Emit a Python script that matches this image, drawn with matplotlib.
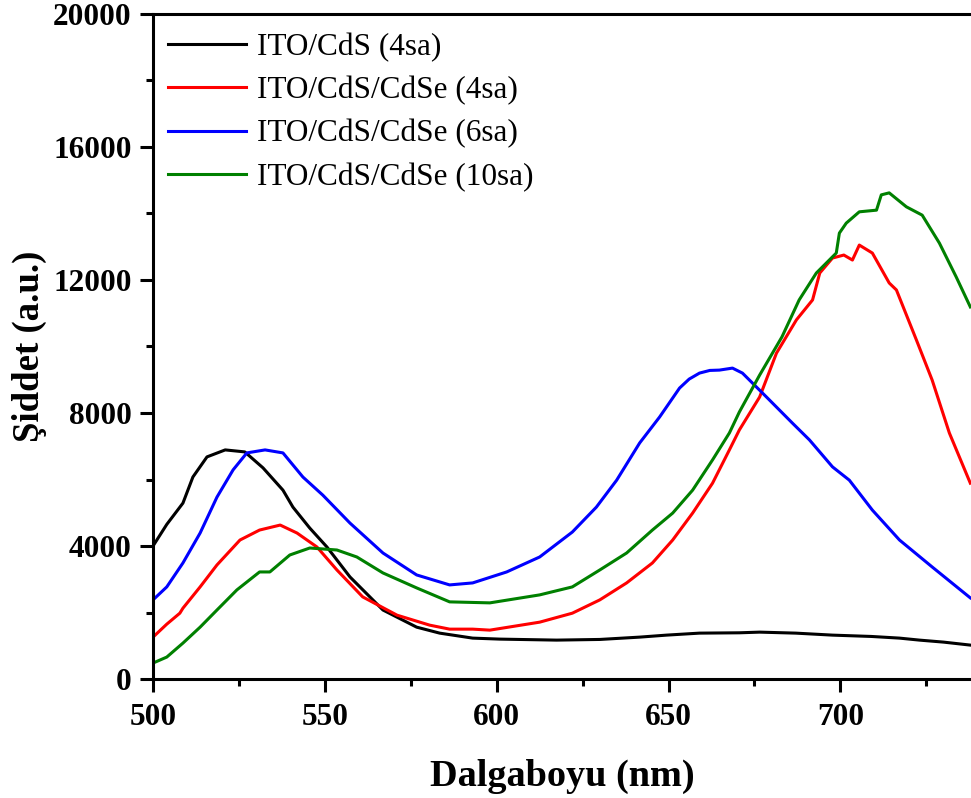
import matplotlib
matplotlib.use("Agg")
import matplotlib.pyplot as plt
from matplotlib.ticker import MultipleLocator

plt.rcParams['font.family'] = ['Liberation Serif', 'DejaVu Serif']

# ITO/CdS (4sa)
x_cds = [500, 504, 508.7, 511.6, 515.7, 521, 526.7, 532, 537.8, 540.7, 545.6, 550.6,
         557.3, 566.9, 576.7, 583.4, 593, 600.9, 617.4, 630, 641.6, 649.4, 659, 670.6,
         676.5, 687, 697.7, 709, 717.2, 723, 730, 737.8]
y_cds = [4000, 4650, 5290, 6075, 6680, 6890, 6830, 6350, 5680, 5170, 4540, 3970,
         3070, 2075, 1560, 1380, 1230, 1200, 1170, 1190, 1260, 1320, 1380, 1390,
         1410, 1380, 1320, 1280, 1230, 1170, 1110, 1020]

# ITO/CdS/CdSe (4sa)
x_4sa = [500, 504, 507.8, 508.7, 513.7, 518.6, 525.3, 531, 537, 541.9, 547.7, 553.5,
         561, 571, 580.5, 586.3, 593, 598, 612.5, 622, 630, 637.8, 645.3, 651.2, 657,
         662.8, 667.7, 670.6, 676.5, 681.4, 687.2, 691.9, 694, 697.7, 701, 703.5,
         705.5, 709.3, 714.2, 716.3, 722.1, 726.7, 731.7, 737.8]
y_4sa = [1260, 1650, 1980, 2130, 2770, 3430, 4180, 4480, 4630, 4390, 3970, 3280,
         2470, 1920, 1620, 1500, 1500, 1470, 1710, 1980, 2380, 2890, 3490, 4180, 4990,
         5890, 6890, 7490, 8480, 9800, 10800, 11400, 12210, 12660, 12750, 12600,
         13050, 12810, 11910, 11700, 10200, 8990, 7400, 5890]

# ITO/CdS/CdSe (6sa)
x_6sa = [500, 504, 508.7, 513.7, 518.6, 523.3, 527.3, 532.6, 537.8, 543.6, 549.4,
         557.3, 566.9, 576.7, 586.3, 593, 602.9, 612.5, 622, 629, 634.9, 641.6, 647.4,
         653.2, 656, 659, 662, 664.8, 668.6, 671.5, 678.5, 686, 691, 697.7, 702.6,
         709.3, 717.2, 726.7, 737.8]
y_6sa = [2380, 2770, 3490, 4390, 5470, 6290, 6800, 6890, 6800, 6075, 5530,
         4690, 3790, 3130, 2830, 2890, 3220, 3670, 4420, 5170, 5980, 7100, 7880,
         8750, 9020, 9200, 9280, 9290, 9350, 9200, 8480, 7700, 7190, 6380, 5980,
         5080, 4180, 3370, 2440]

# ITO/CdS/CdSe (10sa)
x_10sa = [500, 504, 508.7, 513.7, 518.6, 524.4, 531, 534, 539.8, 545.6, 553.5, 559.3,
          566.9, 576.7, 586.3, 598, 612.5, 622, 630, 637.8, 645.3, 651.2, 657, 662.8,
          667.7, 670.6, 676.5, 683, 688, 693, 698.8, 699.7, 701.7, 705.5, 710.5,
          711.9, 714.2, 719.2, 723.8, 728.8, 733.7, 737.8]
y_10sa = [480, 660, 1080, 1560, 2075, 2680, 3220, 3220, 3730, 3940, 3880, 3670,
          3190, 2740, 2320, 2290, 2530, 2770, 3280, 3790, 4480, 4990, 5680, 6590,
          7400, 8030, 9140, 10290, 11400, 12210, 12810, 13410, 13710, 14050, 14100,
          14560, 14620, 14200, 13950, 13110, 12090, 11190]

labels = ['ITO/CdS (4sa)', 'ITO/CdS/CdSe (4sa)', 'ITO/CdS/CdSe (6sa)', 'ITO/CdS/CdSe (10sa)']
colors = ['black', 'red', 'blue', 'green']

fig = plt.figure(figsize=(9.71, 7.98), dpi=100)
ax = fig.add_axes([0.1576, 0.1491, 0.8424, 0.8334])

series = [(x_cds, y_cds), (x_4sa, y_4sa), (x_6sa, y_6sa), (x_10sa, y_10sa)]
for (xs, ys), lab, c in zip(series, labels, colors):
    ax.plot(xs, ys, color=c, lw=2.2, label=lab)

ax.set_xlim(500, 738)
ax.set_ylim(0, 20000)
ax.xaxis.set_major_locator(MultipleLocator(50))
ax.xaxis.set_minor_locator(MultipleLocator(25))
ax.yaxis.set_major_locator(MultipleLocator(4000))
ax.yaxis.set_minor_locator(MultipleLocator(2000))

for s in ['left', 'bottom', 'top']:
    ax.spines[s].set_linewidth(2.2)
ax.spines['right'].set_visible(False)

ax.tick_params(which='major', direction='out', length=9.5, width=2.2, labelsize=22.5, pad=6)
ax.tick_params(which='minor', direction='out', length=5, width=2.2)
ax.tick_params(axis='x', which='both', top=False)
ax.tick_params(axis='x', which='major', pad=8)
for t in ax.get_xticklabels() + ax.get_yticklabels():
    t.set_fontweight('bold')

ax.set_xlabel('Dalgaboyu (nm)', fontsize=27.5, fontweight='bold', labelpad=19)
ax.set_ylabel('Şiddet (a.u.)', fontsize=26.5, fontweight='bold', labelpad=4)

ax.legend(loc='upper left', bbox_to_anchor=(-0.005, 1.0), frameon=False, fontsize=22.5,
          handlelength=2.5, handletextpad=0.35, labelspacing=0.45, borderaxespad=0.2,
          borderpad=0.4)

fig.savefig('out.png', dpi=100)
